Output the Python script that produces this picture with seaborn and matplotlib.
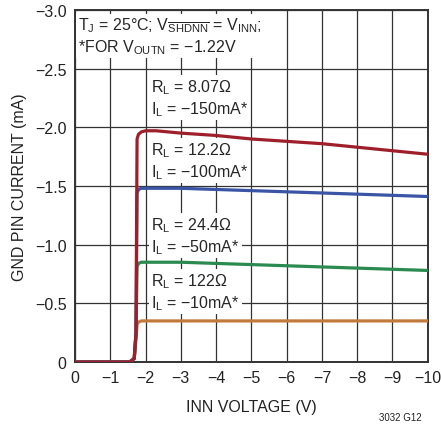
import pandas as pd
import matplotlib
matplotlib.use('Agg')
import matplotlib.pyplot as plt
import seaborn as sns

# Data (V in volts, I in mA)
volts = [0, -1.0, -1.55, -1.68, -1.73, -1.76, -1.80, -1.88, -2.0, -2.3, -3, -4, -5, -6, -7, -8, -9, -10]
red_i = [0, 0, 0, -0.03, -0.25, -1.90, -1.94, -1.96, -1.97, -1.97, -1.95, -1.93, -1.90, -1.88, -1.86, -1.83, -1.80, -1.77]
blue_i = [0, 0, 0, -0.03, -0.25, -1.44, -1.47, -1.48, -1.48, -1.48, -1.48, -1.47, -1.46, -1.45, -1.44, -1.43, -1.42, -1.41]
green_i = [0, 0, 0, -0.03, -0.25, -0.81, -0.84, -0.85, -0.85, -0.85, -0.85, -0.84, -0.83, -0.82, -0.81, -0.80, -0.79, -0.78]
orange_i = [0, 0, 0, -0.03, -0.20, -0.32, -0.34, -0.35, -0.35, -0.35, -0.35, -0.35, -0.35, -0.35, -0.35, -0.35, -0.35, -0.35]

series = ['10mA', '50mA', '100mA', '150mA']
colors = ['#c27a3c', '#2a8a4f', '#3a55a5', '#9e1f2a']

labels = [
    ('R$_\\mathregular{L}$ = 8.07Ω\nI$_\\mathregular{L}$ = −150mA*', -2.25),
    ('R$_\\mathregular{L}$ = 12.2Ω\nI$_\\mathregular{L}$ = −100mA*', -1.715),
    ('R$_\\mathregular{L}$ = 24.4Ω\nI$_\\mathregular{L}$ = −50mA*', -1.075),
    ('R$_\\mathregular{L}$ = 122Ω\nI$_\\mathregular{L}$ = −10mA*', -0.60),
]

frames = []
for name, vals in zip(series, [orange_i, green_i, blue_i, red_i]):
    frames.append(pd.DataFrame({'V': volts, 'I': vals, 'load': name}))
df = pd.concat(frames, ignore_index=True)

sns.set_style('white')
plt.rcParams['font.family'] = ['Liberation Sans', 'DejaVu Sans']
plt.rcParams['mathtext.default'] = 'regular'
plt.rcParams['axes.unicode_minus'] = True

fig = plt.figure(figsize=(4.41, 4.35), dpi=100)
ax = fig.add_axes([0.170, 0.1655, 0.800, 0.8095])

sns.lineplot(data=df, x='V', y='I', hue='load', palette=colors, sort=False,
             estimator=None, linewidth=2.3, legend=False, ax=ax, zorder=3)

ax.set_xlim(0, -10)
ax.set_ylim(0, -3)
ax.set_xticks(range(0, -11, -1))
ax.set_xticklabels(['0'] + ['−%d' % i for i in range(1, 11)])
yt = [0, -0.5, -1.0, -1.5, -2.0, -2.5, -3.0]
ax.set_yticks(yt)
ax.set_yticklabels(['0'] + ['−%.1f' % abs(v) for v in yt[1:]])
ax.tick_params(labelsize=11.5, length=0, pad=6, colors='#222222')
ax.grid(True, color='#333333', linewidth=0.9)
ax.set_axisbelow(True)
for s in ax.spines.values():
    s.set_color('#333333')
    s.set_linewidth(1.4)

ax.set_xlabel('INN VOLTAGE (V)', fontsize=11.5, labelpad=10, color='#222222')
ax.set_ylabel('GND PIN CURRENT (mA)', fontsize=11.5, labelpad=6, color='#222222')

box = dict(facecolor='white', edgecolor='none', pad=1.5)
ax.text(-0.1, -2.78, 'T$_\\mathregular{J}$ = 25°C; V$_{\\overline{\\mathregular{SHDNN}}}$ = V$_\\mathregular{INN}$;\n*FOR V$_\\mathregular{OUTN}$ = −1.22V',
        fontsize=11.5, va='center', ha='left', linespacing=1.2, bbox=box, zorder=4)
for txt, y in labels:
    ax.text(-2.15, y, txt, fontsize=11.5, va='center', ha='left', linespacing=1.25,
            bbox=box, zorder=2.5)

fig.text(0.955, 0.027, '3032 G12', fontsize=7, ha='right', va='bottom', color='#222222')

fig.savefig('out.png', dpi=100)
